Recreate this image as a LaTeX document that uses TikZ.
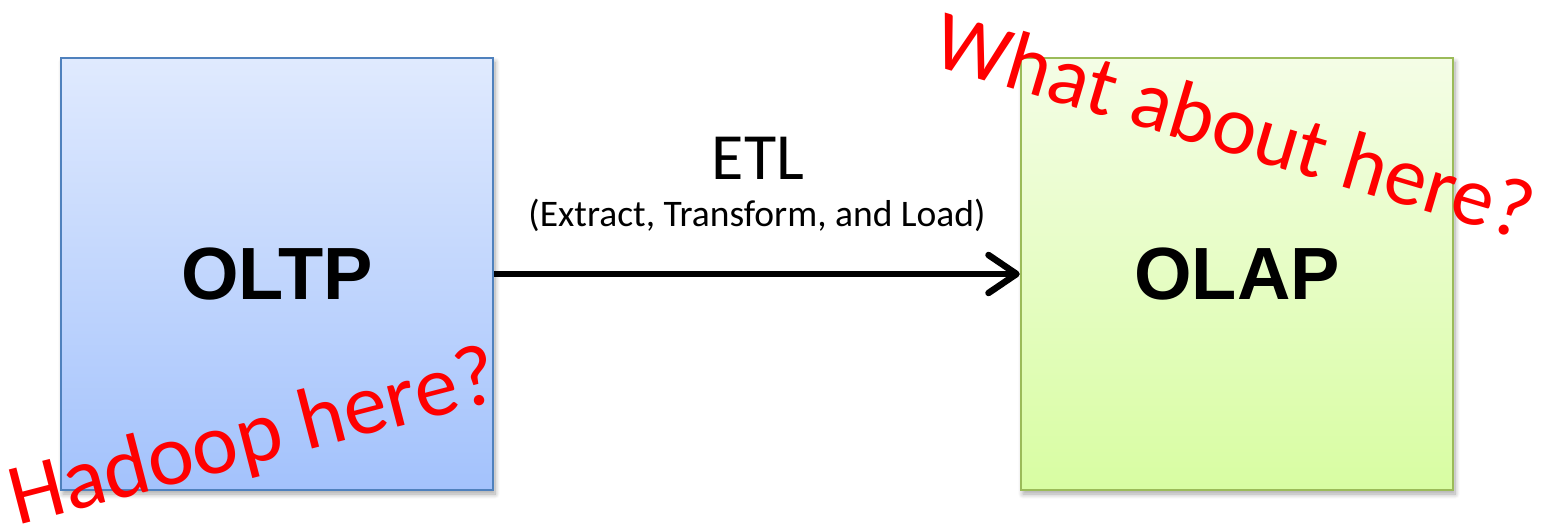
\documentclass[tikz,border=0pt]{standalone}
\usepackage{fontspec}
\setmainfont{Carlito}
\newfontfamily\boxfont{Liberation Sans}
\usetikzlibrary{arrows.meta,shadows.blur}

\definecolor{oltpTop}{RGB}{224,234,254}
\definecolor{oltpBottom}{RGB}{163,194,252}
\definecolor{oltpLine}{RGB}{79,129,189}
\definecolor{olapTop}{RGB}{244,253,230}
\definecolor{olapBottom}{RGB}{216,253,162}
\definecolor{olapLine}{RGB}{155,187,89}
\definecolor{noteRed}{RGB}{255,0,0}

\tikzset{
  dbbox/.style={draw, line width=2.5pt, minimum width=432pt, minimum height=432pt,
    inner sep=0pt, font=\boxfont\bfseries\fontsize{74}{80}\selectfont,
    blur shadow={shadow xshift=2pt, shadow yshift=-4pt, shadow blur radius=5pt,
      shadow blur steps=8, shadow opacity=35}},
  flowline/.style={line width=6.5pt, -{Straight Barb[length=28pt, width=38pt, round]}},
  note/.style={text=noteRed, font=\fontsize{87}{92}\selectfont, inner sep=0pt},
}

\begin{document}
\begin{tikzpicture}[x=1pt, y=-1pt]
  \useasboundingbox (0,0) rectangle (1545,523);

  % source and target systems
  \node[dbbox, draw=oltpLine, top color=oltpTop, bottom color=oltpBottom]
    (oltp) at (277,274) {OLTP};
  \node[dbbox, draw=olapLine, top color=olapTop, bottom color=olapBottom]
    (olap) at (1237,274) {OLAP};

  % ETL flow
  \draw[flowline] (oltp.east) -- (olap.west);
  \node[font=\fontsize{66}{70}\selectfont, inner sep=0pt] (etl) at (758,158) {ETL};
  \node[font=\fontsize{37.5}{40}\selectfont, inner sep=0pt] (etlsub) at (757,215)
    {(Extract, Transform, and Load)};

  % red annotations
  \node[note, rotate=14.5] (hadoop) at (254,440) {Hadoop here?};
  \node[note, font=\fontsize{84}{90}\selectfont, rotate=-16.5] (whatabout) at (1235,125) {What about here?};
\end{tikzpicture}
\end{document}
